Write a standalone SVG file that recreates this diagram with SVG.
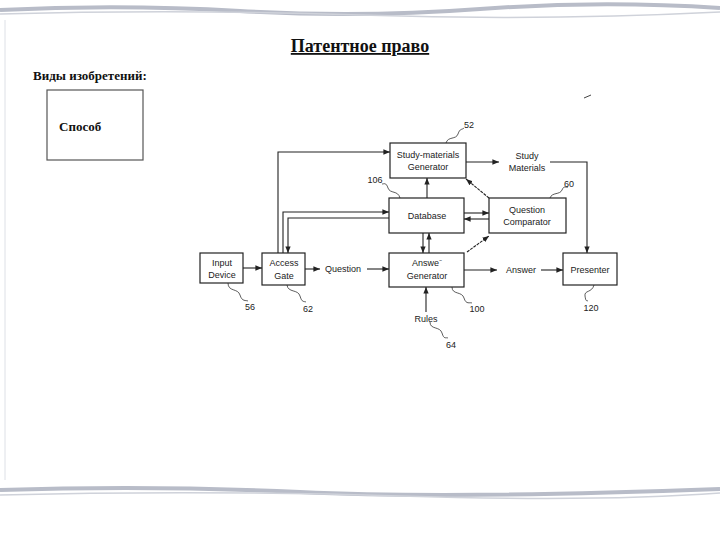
<svg xmlns="http://www.w3.org/2000/svg" width="720" height="540" viewBox="0 0 720 540">
<defs>
<marker id="a" viewBox="0 0 10 10" refX="10" refY="5" markerWidth="6" markerHeight="6" orient="auto"><path d="M0,1 L10,5 L0,9 z" fill="#222"/></marker>
<style>
.b{fill:#fff;stroke:#222;stroke-width:1.2}
.t{font-family:"Liberation Sans",Arial,sans-serif;font-size:9px;fill:#222;text-anchor:middle}
.c{fill:none;stroke:#222;stroke-width:1.1}
.s{fill:none;stroke:#333;stroke-width:0.8}
.h{font-family:"Liberation Serif","Times New Roman",serif;font-weight:bold;fill:#111}
</style>
</defs>
<rect width="720" height="540" fill="#fff"/>
<g id="decor" fill="none" stroke="#b8bcc8">
<path d="M0,10 Q120,4 240,11 T480,9 T720,8" stroke-width="4"/>
<path d="M0,14 Q180,9 360,15 T720,12" stroke-width="1.5" stroke="#cfd2da"/>
<path d="M0,490 Q150,485 300,492 T720,489" stroke-width="4"/>
<path d="M0,495 Q200,490 400,496 T720,493" stroke-width="1.5" stroke="#cfd2da"/>
<path d="M5,20 L5,480" stroke-width="1" stroke="#dde0e6"/>
</g>
<text class="h" x="360" y="52" font-size="18" text-anchor="middle" text-decoration="underline">Патентное право</text>
<text class="h" x="33" y="80" font-size="13">Виды изобретений:</text>
<g id="sposob"><rect x="47" y="90" width="96" height="70" fill="#fff" stroke="#555" stroke-width="1.2"/><text class="h" x="59" y="131" font-size="13" fill="#333">Способ</text></g>
<path d="M584,98 L591,95" stroke="#444" stroke-width="1"/>
<g id="connectors">
<path class="c" d="M243,268 L262,268" marker-end="url(#a)"/>
<path class="c" d="M305,269 L320,269" marker-end="url(#a)"/>
<path class="c" d="M367,269 L389,269" marker-end="url(#a)"/>
<path class="c" d="M278,253 L278,152 L390,152" marker-end="url(#a)"/>
<path class="c" d="M283,253 L283,212 L389,212" marker-end="url(#a)"/>
<path class="c" d="M389,218 L288,218 L288,253" marker-end="url(#a)"/>
<path class="c" d="M427,198 L427,178" marker-end="url(#a)"/>
<path class="c" d="M466,162 L499,162" marker-end="url(#a)"/>
<path class="c" d="M550,162 L587,162 L587,253" marker-end="url(#a)"/>
<path class="c" d="M489,198 L466,179" marker-end="url(#a)" stroke-dasharray="3,1"/>
<path class="c" d="M464,213 L489,213" marker-end="url(#a)"/>
<path class="c" d="M489,219 L464,219" marker-end="url(#a)"/>
<path class="c" d="M423,233 L423,253" marker-end="url(#a)"/>
<path class="c" d="M429,253 L429,233" marker-end="url(#a)"/>
<path class="c" d="M467,252 L489,236" marker-end="url(#a)" stroke-dasharray="3,1"/>
<path class="c" d="M464,270 L497,270" marker-end="url(#a)"/>
<path class="c" d="M541,270 L563,270" marker-end="url(#a)"/>
<path class="c" d="M426,312 L426,287" marker-end="url(#a)"/>
<path class="s" d="M446,143 C448,136 456,140 458,134 S462,130 464,128"/>
<path class="s" d="M400,198 C398,190 390,194 388,188 S384,184 382,184"/>
<path class="s" d="M550,198 C552,192 560,195 562,190 S566,188 568,187"/>
<path class="s" d="M228,283 C228,292 238,288 240,295 S246,300 248,301"/>
<path class="s" d="M287,285 C288,293 298,289 300,296 S304,301 306,302"/>
<path class="s" d="M452,287 C452,295 462,291 464,298 S470,302 472,303"/>
<path class="s" d="M594,285 C592,293 584,290 585,296 S586,300 588,301"/>
<path class="s" d="M430,322 C430,330 440,326 442,333 S446,337 448,338"/>
</g>
<g id="study"><rect class="b" x="390" y="143" width="76" height="35"/><text class="t" x="428" y="158">Study-materials</text><text class="t" x="428" y="170">Generator</text></g>
<g id="database"><rect class="b" x="389" y="198" width="75" height="35"/><text class="t" x="427" y="219">Database</text></g>
<g id="comparator"><rect class="b" x="489" y="198" width="77" height="35"/><text class="t" x="527" y="213">Question</text><text class="t" x="527" y="225">Comparator</text></g>
<g id="answergen"><rect class="b" x="389" y="253" width="75" height="34"/><text class="t" x="427" y="266">Answe⁻</text><text class="t" x="427" y="279">Generator</text></g>
<g id="input"><rect class="b" x="200" y="253" width="43" height="30"/><text class="t" x="222" y="266">Input</text><text class="t" x="222" y="278">Device</text></g>
<g id="gate"><rect class="b" x="262" y="253" width="43" height="32"/><text class="t" x="284" y="266">Access</text><text class="t" x="284" y="279">Gate</text></g>
<g id="presenter"><rect class="b" x="563" y="253" width="54" height="32"/><text class="t" x="590" y="273">Presenter</text></g>
<g id="labels">
<text class="t" x="343" y="272">Question</text>
<text class="t" x="527" y="159">Study</text><text class="t" x="527" y="171">Materials</text>
<text class="t" x="521" y="273">Answer</text>
<text class="t" x="426" y="322">Rules</text>
<text class="t" x="469" y="128">52</text>
<text class="t" x="375" y="183">106</text>
<text class="t" x="569" y="187">60</text>
<text class="t" x="250" y="310">56</text>
<text class="t" x="308" y="312">62</text>
<text class="t" x="477" y="312">100</text>
<text class="t" x="591" y="311">120</text>
<text class="t" x="451" y="348">64</text>
</g>
</svg>
